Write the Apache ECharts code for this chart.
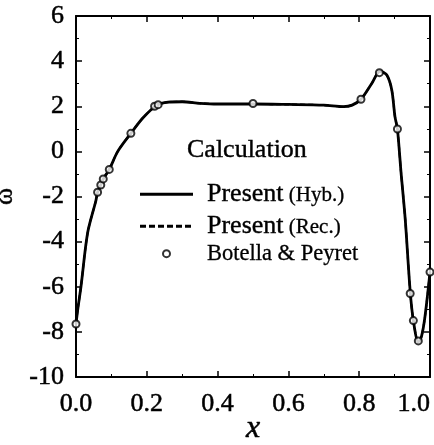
<!DOCTYPE html>
<html>
<head>
<meta charset="utf-8">
<script src="https://cdn.jsdelivr.net/npm/echarts@6/dist/echarts.min.js"></script>
<style>
  html, body { margin: 0; padding: 0; background: #fff; }
  #chart { width: 434px; height: 445px; }
</style>
</head>
<body>
<div id="chart"></div>
<script>
// curve (both calculations lie on top of each other)
var xCurve = [0, 0.005, 0.014, 0.033, 0.056, 0.061, 0.07, 0.077, 0.094, 0.118, 0.155, 0.19, 0.228, 0.26, 0.3, 0.35, 0.4, 0.5, 0.6, 0.7, 0.756, 0.78, 0.805, 0.835, 0.859, 0.878, 0.892, 0.901, 0.908, 0.918, 0.93, 0.944, 0.953, 0.967, 0.976, 0.986, 1.0]
var omegaHyb = [-7.65, -7.0, -6.0, -3.6, -2.2, -1.81, -1.49, -1.22, -0.8, 0.0, 0.8, 1.5, 2.04, 2.18, 2.2, 2.13, 2.1, 2.1, 2.08, 2.05, 1.98, 2.05, 2.31, 3.0, 3.55, 3.38, 2.72, 1.54, 0.99, -0.9, -3.0, -6.2, -7.5, -8.45, -8.2, -7.3, -5.35]
var omegaRec = [-7.65, -7.0, -6.0, -3.6, -2.2, -1.81, -1.49, -1.22, -0.8, 0.0, 0.8, 1.5, 2.04, 2.18, 2.2, 2.13, 2.1, 2.1, 2.08, 2.05, 1.98, 2.05, 2.31, 3.0, 3.55, 3.38, 2.72, 1.54, 0.99, -0.9, -3.0, -6.2, -7.5, -8.45, -8.2, -7.3, -5.35]

// Botella & Peyret reference points
var xRef = [0, 0.061, 0.07, 0.077, 0.094, 0.155, 0.222, 0.232, 0.5, 0.805, 0.857, 0.908, 0.944, 0.953, 0.967, 1.0]
var omegaRef = [-7.65, -1.81, -1.49, -1.22, -0.8, 0.8, 2.0, 2.07, 2.12, 2.31, 3.49, 0.99, -6.3, -7.5, -8.4, -5.35]

var serif = "'Liberation Serif', 'Times New Roman', serif"

// legend samples: a solid bar and a row of dashes
var solidIcon = 'path://M0,0h53v3h-53z'
var dashIcon = 'path://M0,0h6v3h-6z M9,0h6v3h-6z M18,0h6v3h-6z M27,0h6v3h-6z M36,0h6v3h-6z M45,0h6v3h-6z M53,0h0v3h0z'

function pairs(xs, ys) {
  return xs.map(function (x, i) { return [x, ys[i]] })
}

function legendBox(item, left, top, h) {
  return {
    data: [item],
    left: left,
    top: top,
    orient: 'vertical',
    itemWidth: 53,
    itemHeight: h,
    padding: 0,
    selectedMode: false,
    formatter: function (n) {
      var k = n.indexOf(' (')
      if (k < 0) return '{c|' + n + '}'
      return '{a|' + n.slice(0, k) + '}{b| ' + n.slice(k + 1) + '}'
    },
    textStyle: {
      padding: [0, 0, 0, 9],
      rich: {
        a: { fontFamily: serif, fontSize: 26, color: '#000', verticalAlign: 'bottom', textBorderColor: '#000', textBorderWidth: 0.4 },
        b: { fontFamily: serif, fontSize: 21, color: '#000', verticalAlign: 'bottom', padding: [0, 0, 1, 0], textBorderColor: '#000', textBorderWidth: 0.3 },
        c: { fontFamily: serif, fontSize: 22.5, color: '#000', textBorderColor: '#000', textBorderWidth: 0.3 }
      }
    }
  }
}

var tick = { inside: true, length: 6, lineStyle: { width: 1.5, color: '#000' } }
var minor = { show: true, splitNumber: 2, length: 3, lineStyle: { color: '#000' } }
var axisLine = { onZero: false, lineStyle: { color: '#000', width: 2 } }

var chart = echarts.init(document.getElementById('chart'))
chart.setOption({
  animation: false,
  backgroundColor: '#fff',
  grid: { left: 76, right: 4, top: 16, bottom: 68, containLabel: false, outerBoundsMode: 'none' },
  title: {
    text: 'Calculation',
    left: 187,
    top: 137,
    padding: 0,
    textStyle: { fontFamily: serif, fontSize: 26, fontWeight: 'normal', color: '#000', textBorderColor: '#000', textBorderWidth: 0.4 }
  },
  legend: [
    legendBox({ name: 'Present (Hyb.)', icon: solidIcon }, 140, 181, 3),
    legendBox({ name: 'Present (Rec.)', icon: dashIcon }, 140, 213, 3),
    legendBox({ name: 'Botella & Peyret', icon: 'emptyCircle' }, 162, 242, 7)
  ],
  xAxis: [{
    type: 'value',
    min: 0,
    max: 1,
    interval: 0.2,
    name: 'x',
    nameLocation: 'middle',
    nameGap: 36,
    nameMoveOverlap: false,
    nameTextStyle: { fontFamily: serif, fontSize: 32, fontStyle: 'italic', color: '#000', textBorderColor: '#000', textBorderWidth: 0.5 },
    axisLine: axisLine,
    axisTick: tick,
    minorTick: minor,
    splitLine: { show: false },
    axisLabel: {
      margin: 14,
      fontFamily: serif,
      fontSize: 26,
      color: '#000',
      textBorderColor: '#000',
      textBorderWidth: 0.5,
      alignMaxLabel: 'right',
      formatter: function (v) { return v.toFixed(1) }
    }
  }, {
    type: 'value',
    position: 'top',
    min: 0,
    max: 1,
    interval: 0.2,
    axisLine: axisLine,
    axisTick: tick,
    minorTick: minor,
    splitLine: { show: false },
    axisLabel: { show: false }
  }],
  yAxis: [{
    type: 'value',
    min: -10,
    max: 6,
    interval: 2,
    name: 'ω',
    nameLocation: 'middle',
    nameGap: 53,
    nameTextStyle: { fontFamily: serif, fontSize: 26, color: '#000', textBorderColor: '#000', textBorderWidth: 0.4 },
    axisLine: axisLine,
    axisTick: tick,
    minorTick: minor,
    splitLine: { show: false },
    axisLabel: { margin: 12, fontFamily: serif, fontSize: 26, color: '#000', textBorderColor: '#000', textBorderWidth: 0.5 }
  }, {
    type: 'value',
    position: 'right',
    min: -10,
    max: 6,
    interval: 2,
    axisLine: axisLine,
    axisTick: tick,
    minorTick: minor,
    splitLine: { show: false },
    axisLabel: { show: false }
  }],
  series: [{
    name: 'Present (Hyb.)',
    type: 'line',
    data: pairs(xCurve, omegaHyb),
    symbol: 'none',
    smooth: 0.3,
    lineStyle: { color: '#000', width: 2.8 },
    itemStyle: { color: '#000' }
  }, {
    name: 'Present (Rec.)',
    type: 'line',
    data: pairs(xCurve, omegaRec),
    symbol: 'none',
    smooth: 0.3,
    lineStyle: { color: '#000', width: 2, type: [5, 3] },
    itemStyle: { color: '#000' }
  }, {
    name: 'Botella & Peyret',
    type: 'scatter',
    data: pairs(xRef, omegaRef),
    symbol: 'emptyCircle',
    symbolSize: 7,
    itemStyle: { color: '#000', borderWidth: 2.5 },
    z: 5
  }]
})
</script>
</body>
</html>
